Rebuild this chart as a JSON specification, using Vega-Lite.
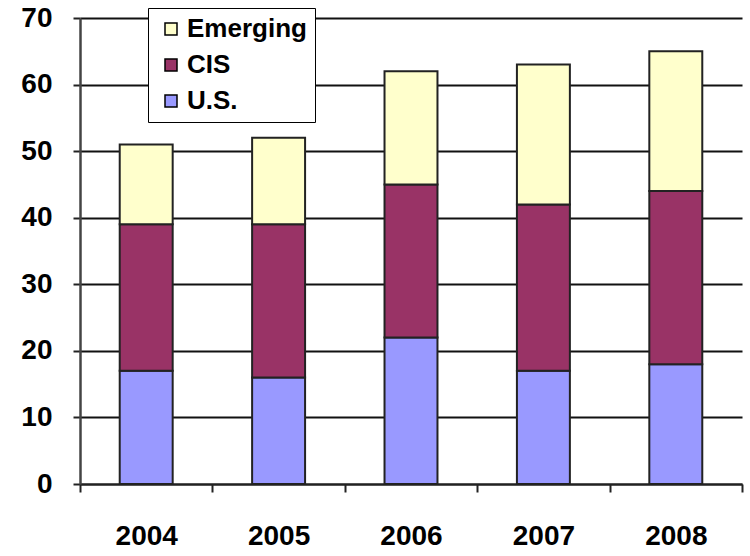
{
  "$schema": "https://vega.github.io/schema/vega-lite/v6.json",
  "width": 662,
  "height": 466,
  "autosize": {"type": "none"},
  "padding": {"left": 80, "top": 18, "right": 8, "bottom": 72},
  "background": "white",
  "config": {
    "view": {"stroke": null},
    "font": "Liberation Sans",
    "axis": {"labelFont": "Liberation Sans", "labelFontWeight": "bold", "labelFontSize": 28, "labelColor": "black"}
  },
  "data": {
    "values": [
      {"year": "2004", "region": "U.S.", "ord": 1, "value": 17},
      {"year": "2004", "region": "CIS", "ord": 2, "value": 22},
      {"year": "2004", "region": "Emerging", "ord": 3, "value": 12},
      {"year": "2005", "region": "U.S.", "ord": 1, "value": 16},
      {"year": "2005", "region": "CIS", "ord": 2, "value": 23},
      {"year": "2005", "region": "Emerging", "ord": 3, "value": 13},
      {"year": "2006", "region": "U.S.", "ord": 1, "value": 22},
      {"year": "2006", "region": "CIS", "ord": 2, "value": 23},
      {"year": "2006", "region": "Emerging", "ord": 3, "value": 17},
      {"year": "2007", "region": "U.S.", "ord": 1, "value": 17},
      {"year": "2007", "region": "CIS", "ord": 2, "value": 25},
      {"year": "2007", "region": "Emerging", "ord": 3, "value": 21},
      {"year": "2008", "region": "U.S.", "ord": 1, "value": 18},
      {"year": "2008", "region": "CIS", "ord": 2, "value": 26},
      {"year": "2008", "region": "Emerging", "ord": 3, "value": 21}
    ]
  },
  "mark": {"type": "bar", "stroke": "#222222", "strokeWidth": 2, "width": {"band": 0.4}},
  "encoding": {
    "x": {
      "field": "year", "type": "nominal", "title": null,
      "scale": {"paddingInner": 0, "paddingOuter": 0},
      "axis": {"labelAngle": 0, "tickBand": "extent", "tickSize": 8, "tickColor": "#222222", "tickWidth": 2,
               "domainColor": "#222222", "domainWidth": 2, "labelPadding": 30, "grid": false}
    },
    "y": {
      "field": "value", "type": "quantitative", "aggregate": "sum", "stack": "zero", "title": null,
      "scale": {"domain": [0, 70], "nice": false},
      "axis": {"values": [0, 10, 20, 30, 40, 50, 60, 70], "grid": true, "gridColor": "#111111", "gridWidth": 2, "gridOpacity": 1,
               "tickSize": 7, "tickColor": "#222222", "tickWidth": 2, "domainColor": "#444444", "domainWidth": 2.5,
               "labelPadding": 21}
    },
    "color": {
      "field": "region", "type": "nominal", "title": null,
      "scale": {"domain": ["Emerging", "CIS", "U.S."], "range": ["#ffffcc", "#993366", "#9999ff"]},
      "legend": {
        "orient": "none", "legendX": 68, "legendY": -10, "direction": "vertical",
        "fillColor": "white", "strokeColor": "black", "padding": 8,
        "symbolType": "square", "symbolSize": 144, "symbolStrokeColor": "black", "symbolStrokeWidth": 1.5,
        "symbolOffset": 2,
        "labelFont": "Liberation Sans", "labelFontWeight": "bold", "labelFontSize": 26, "labelColor": "black",
        "rowPadding": 10, "labelOffset": 3, "symbolOpacity": 1
      }
    },
    "order": {"field": "ord", "type": "quantitative", "sort": "ascending"}
  }
}
